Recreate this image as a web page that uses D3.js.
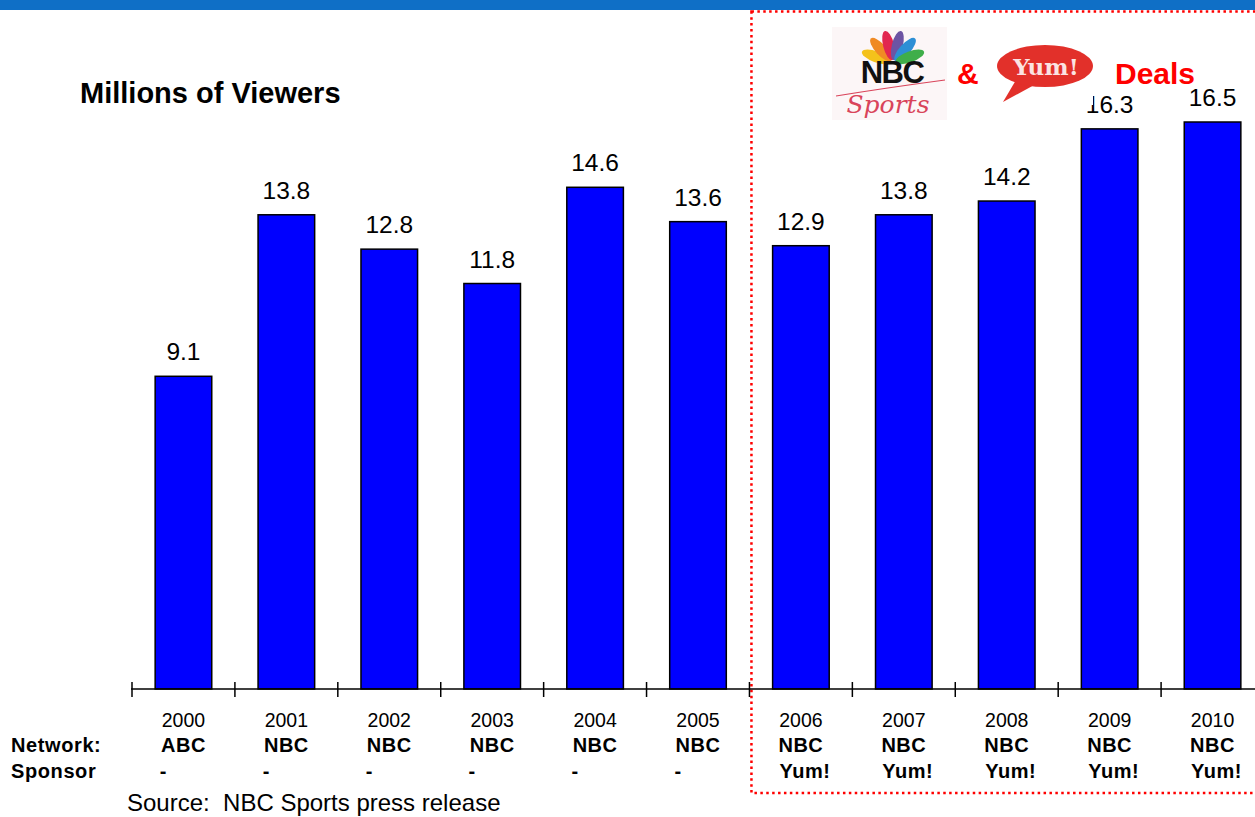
<!DOCTYPE html>
<html>
<head>
<meta charset="utf-8">
<script src="https://cdn.jsdelivr.net/npm/d3@7"></script>
<style>
  body { margin: 0; background: #fff; }
  svg { display: block; font-family: Arial, "Liberation Sans", sans-serif; }
</style>
</head>
<body>
<svg id="chart" width="1255" height="817"></svg>
<script>
// data
var years = ["2000","2001","2002","2003","2004","2005","2006","2007","2008","2009","2010"];
var viewers = [9.1, 13.8, 12.8, 11.8, 14.6, 13.6, 12.9, 13.8, 14.2, 16.3, 16.5];
var networks = ["ABC","NBC","NBC","NBC","NBC","NBC","NBC","NBC","NBC","NBC","NBC"];
var sponsors = ["-","-","-","-","-","-","Yum!","Yum!","Yum!","Yum!","Yum!"];
var peacockColors = ["#f4c21b","#f08a24","#e2264f","#6d54a3","#2d8fd5","#3fae4a"];

var rows = years.map(function(y, i) {
  return {year: y, value: viewers[i], network: networks[i], sponsor: sponsors[i]};
});

var svg = d3.select("#chart");
var baseY = 689;

var x = d3.scaleBand()
    .domain(years)
    .range([132, 1264])
    .paddingInner(0.45)
    .paddingOuter(0.225);

var y = d3.scaleLinear()
    .domain([0, 16.5])
    .range([baseY, 122]);

// top banner (title cut off)
svg.append("rect")
    .attr("x", 0).attr("y", 0)
    .attr("width", 1255).attr("height", 10)
    .attr("fill", "#0f6fc6");

// red dotted box around the deal years
var boxLeft = x("2006") - (x.step() - x.bandwidth()) / 2 + 2;
svg.append("rect")
    .attr("x", boxLeft).attr("y", 11.5)
    .attr("width", 1255 - boxLeft + 20).attr("height", 793 - 11.5)
    .attr("fill", "none")
    .attr("stroke", "#ff0000")
    .attr("stroke-width", 2.5)
    .attr("stroke-dasharray", "2.5,3.4");

svg.append("text")
    .attr("x", 80).attr("y", 103)
    .attr("font-size", 29).attr("font-weight", "bold")
    .text("Millions of Viewers");

// bars
svg.selectAll("rect.bar")
    .data(rows)
    .enter().append("rect")
    .attr("class", "bar")
    .attr("x", function(d) { return x(d.year); })
    .attr("y", function(d) { return y(d.value); })
    .attr("width", x.bandwidth())
    .attr("height", function(d) { return baseY - y(d.value); })
    .attr("fill", "#0000ff")
    .attr("stroke", "#000")
    .attr("stroke-width", 1.5);

svg.selectAll("text.val")
    .data(rows)
    .enter().append("text")
    .attr("class", "val")
    .attr("x", function(d) { return x(d.year) + x.bandwidth() / 2; })
    .attr("y", function(d) { return y(d.value) - 16; })
    .attr("text-anchor", "middle")
    .attr("font-size", 24.5)
    .text(function(d) { return d.value.toFixed(1); });

// category axis, ticks sit between the bars
var gap = (x.step() - x.bandwidth()) / 2;
svg.append("line")
    .attr("x1", 131).attr("x2", 1255)
    .attr("y1", baseY).attr("y2", baseY)
    .attr("stroke", "#000").attr("stroke-width", 1.5);
svg.selectAll("line.tick")
    .data(years)
    .enter().append("line")
    .attr("class", "tick")
    .attr("x1", function(d) { return x(d) - gap; })
    .attr("x2", function(d) { return x(d) - gap; })
    .attr("y1", baseY - 7).attr("y2", baseY + 8)
    .attr("stroke", "#000").attr("stroke-width", 1.5);

var cx = function(d) { return x(d.year) + x.bandwidth() / 2; };

svg.selectAll("text.year")
    .data(rows)
    .enter().append("text")
    .attr("x", cx).attr("y", 727)
    .attr("text-anchor", "middle")
    .attr("font-size", 19.5)
    .text(function(d) { return d.year; });

svg.selectAll("text.net")
    .data(rows)
    .enter().append("text")
    .attr("x", cx).attr("y", 752)
    .attr("text-anchor", "middle")
    .attr("font-size", 20).attr("font-weight", "bold")
    .attr("letter-spacing", 0.5)
    .text(function(d) { return d.network; });

svg.selectAll("text.spon")
    .data(rows)
    .enter().append("text")
    .attr("x", function(d) { return d.sponsor === "-" ? cx(d) - 20 : cx(d) + 4; })
    .attr("y", 778)
    .attr("text-anchor", "middle")
    .attr("font-size", 20).attr("font-weight", "bold")
    .attr("letter-spacing", 0.5)
    .text(function(d) { return d.sponsor; });

svg.append("text")
    .attr("x", 11).attr("y", 752)
    .attr("font-size", 20).attr("font-weight", "bold")
    .attr("letter-spacing", 0.6)
    .text("Network:");
svg.append("text")
    .attr("x", 11).attr("y", 778)
    .attr("font-size", 20).attr("font-weight", "bold")
    .attr("letter-spacing", 0.6)
    .text("Sponsor");

svg.append("text")
    .attr("x", 127).attr("y", 811)
    .attr("font-size", 24)
    .attr("xml:space", "preserve")
    .text("Source:  NBC Sports press release");

// NBC Sports logo
var nbc = svg.append("g");
nbc.append("rect")
    .attr("x", 832).attr("y", 27).attr("width", 115).attr("height", 93)
    .attr("fill", "#fcf6f7");
var n = peacockColors.length;
nbc.selectAll("ellipse")
    .data(peacockColors)
    .enter().append("ellipse")
    .attr("cx", 0).attr("cy", -18)
    .attr("rx", 5.5).attr("ry", 15)
    .attr("fill", function(d) { return d; })
    .attr("transform", function(d, i) {
      var a = -70 + i * 140 / (n - 1);
      return "translate(893,63) rotate(" + a + ")";
    });
nbc.append("text")
    .attr("x", 892).attr("y", 83)
    .attr("text-anchor", "middle")
    .attr("font-size", 31).attr("font-weight", "bold")
    .attr("letter-spacing", -1.5)
    .attr("fill", "#111")
    .text("NBC");
nbc.append("path")
    .attr("d", "M836,96 Q885,88 945,80")
    .attr("fill", "none").attr("stroke", "#d9445a").attr("stroke-width", 1.2);
nbc.append("text")
    .attr("x", 888).attr("y", 113)
    .attr("text-anchor", "middle")
    .attr("font-family", "DejaVu Serif, serif")
    .attr("font-style", "italic")
    .attr("font-size", 25)
    .attr("fill", "#d9445a")
    .text("Sports");

svg.append("text")
    .attr("x", 957).attr("y", 84)
    .attr("font-size", 30).attr("font-weight", "bold")
    .attr("fill", "#ff0000")
    .text("&");

// Yum! logo
var yum = svg.append("g");
yum.append("rect")
    .attr("x", 997).attr("y", 43).attr("width", 96).attr("height", 62)
    .attr("fill", "#fff");
yum.append("path")
    .attr("d", "M1016,80 L1003,102 L1036,84 Z")
    .attr("fill", "#e2302a");
yum.append("ellipse")
    .attr("cx", 1045).attr("cy", 66).attr("rx", 48).attr("ry", 21)
    .attr("fill", "#e2302a");
yum.append("text")
    .attr("x", 1046).attr("y", 75)
    .attr("text-anchor", "middle")
    .attr("font-family", "DejaVu Serif, serif")
    .attr("font-weight", "bold")
    .attr("font-size", 23)
    .attr("fill", "#fbe3e3")
    .text("Yum!");

svg.append("text")
    .attr("x", 1115).attr("y", 84)
    .attr("font-size", 30).attr("font-weight", "bold")
    .attr("fill", "#ff0000")
    .text("Deals");
</script>
</body>
</html>
